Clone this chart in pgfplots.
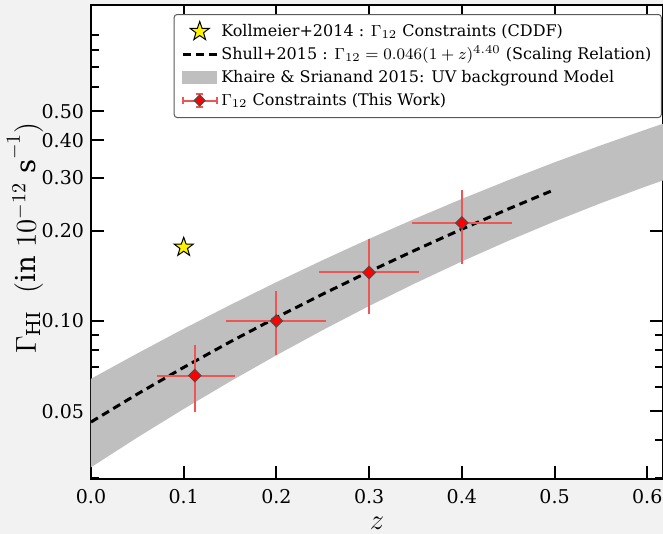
\documentclass[border=0pt]{standalone}
\usepackage{fontspec}
\setmainfont{DejaVu Serif}
\usepackage{pgfplots}
\pgfplotsset{compat=1.18}
\definecolor{bandgray}{RGB}{191,191,191}
\definecolor{errred}{RGB}{238,85,85}
\definecolor{bgc}{RGB}{242,242,242}
\definecolor{legframe}{RGB}{90,90,90}

\pgfdeclareplotmark{fstar}{%
  \pgfpathmoveto{\pgfpointpolar{90}{\pgfplotmarksize}}%
  \pgfpathlineto{\pgfpointpolar{126}{0.4\pgfplotmarksize}}%
  \pgfpathlineto{\pgfpointpolar{162}{\pgfplotmarksize}}%
  \pgfpathlineto{\pgfpointpolar{198}{0.4\pgfplotmarksize}}%
  \pgfpathlineto{\pgfpointpolar{234}{\pgfplotmarksize}}%
  \pgfpathlineto{\pgfpointpolar{270}{0.4\pgfplotmarksize}}%
  \pgfpathlineto{\pgfpointpolar{306}{\pgfplotmarksize}}%
  \pgfpathlineto{\pgfpointpolar{342}{0.4\pgfplotmarksize}}%
  \pgfpathlineto{\pgfpointpolar{18}{\pgfplotmarksize}}%
  \pgfpathlineto{\pgfpointpolar{54}{0.4\pgfplotmarksize}}%
  \pgfpathclose
  \pgfusepathqfillstroke
}

\begin{document}
\begin{tikzpicture}
\fill[bgc] (-45.5pt,-27.5pt) rectangle (286pt,239.5pt);
\begin{axis}[
  at={(0,0)}, anchor=south west,
  scale only axis, width=286pt, height=237pt,
  axis background/.style={fill=white},
  ymode=log,
  xmin=0, xmax=0.617, ymin=0.0297, ymax=1.13,
  xtick={0,0.1,0.2,0.3,0.4,0.5,0.6},
  xticklabels={0.0,0.1,0.2,0.3,0.4,0.5,0.6},
  ytick={0.05,0.1,0.2,0.3,0.4,0.5},
  yticklabels={0.05,0.10,0.20,0.30,0.40,0.50},
  minor ytick={0.03,0.04,0.06,0.07,0.08,0.09,0.6,0.7,0.8,0.9},
  xtick pos=both, ytick pos=both,
  tick align=inside,
  major tick length=6.5pt, minor tick length=4pt,
  every tick/.style={black, line width=1pt},
  axis line style={black, line width=1.3pt},
  /pgf/number format/assume math mode=true,
  ticklabel style={font=\fontsize{9.5}{11}\selectfont},
  xticklabel style={anchor=center, yshift=-9pt},
  xlabel={$z$},
  ylabel={$\Gamma_{\mathrm{HI}}\ \ (\mathrm{in}\ 10^{-12}\ \mathrm{s}^{-1})$},
  xlabel style={font=\fontsize{14.5}{16}\selectfont, at={([yshift=-22pt]axis description cs:0.5,0)}, anchor=center},
  ylabel style={font=\fontsize{13.7}{15}\selectfont, at={([xshift=-33pt,yshift=2pt]axis description cs:0,0.5)}, anchor=center},
  legend style={at={(0.998,0.981)}, anchor=north east,
    draw=legframe, line width=0.5pt, rounded corners=1.5pt, fill=white,
    font=\fontsize{8}{9.6}\selectfont,
    inner xsep=3.5pt, inner ysep=2.75pt, row sep=0pt,
    nodes={inner sep=1.5pt, text height=6.5pt, text depth=2pt},
    /tikz/every even column/.append style={column sep=9.5pt}},
  legend cell align=left,
]
% band: Khaire & Srianand 2015 (upper edge, then lower edge reversed)
\addplot[fill=bandgray, draw=none, forget plot] coordinates {
 (0,0.0641) (0.05,0.0779) (0.1,0.0941) (0.15,0.1129) (0.2,0.1346) (0.25,0.1594)
 (0.3,0.1877) (0.35,0.2194) (0.4,0.2550) (0.45,0.2943) (0.5,0.3377) (0.55,0.3848)
 (0.6,0.4359) (0.63,0.4681)
 (0.63,0.3035) (0.6,0.2817) (0.55,0.2469) (0.5,0.2145) (0.45,0.1848) (0.4,0.1578)
 (0.35,0.1336) (0.3,0.1121) (0.25,0.0932) (0.2,0.0768) (0.15,0.06278) (0.1,0.05085)
 (0.05,0.04085) (0,0.0325)
} -- cycle;
% Shull+2015 scaling relation
\addplot[black, line width=1.5pt, dash pattern=on 4pt off 2.5pt, forget plot] coordinates {
 (0,0.046) (0.05,0.05702) (0.1,0.06997) (0.15,0.08508) (0.2,0.10261) (0.25,0.12279)
 (0.3,0.14592) (0.35,0.17227) (0.4,0.20218) (0.45,0.23593) (0.5,0.27388)
};
% This work
\addplot[only marks, mark=square*, mark size=2.2pt,
  mark options={rotate=45, fill=red, draw=black!70, line width=0.5pt},
  forget plot,
  error bars/.cd, x dir=both, y dir=both, x explicit, y explicit,
  error bar style={errred, line width=1pt},
  error mark options={errred, line width=1pt, mark size=1.8pt}]
coordinates {
 (0.112,0.0657) += (0.039,0.0154) -= (0.037,0.0148)
 (0.2,0.1) += (0.05,0.022) -= (0.05,0.021)
 (0.3,0.145) += (0.05,0.038) -= (0.05,0.037)
 (0.4,0.212) += (0.05,0.053) -= (0.05,0.053)
};
% Kollmeier+2014
\addplot[only marks, mark=fstar, mark size=5pt,
  mark options={fill=yellow, draw=black, line width=0.5pt}, forget plot]
coordinates {(0.1,0.176)};

\addlegendimage{only marks, mark=fstar, mark size=5pt, mark options={fill=yellow, draw=black, line width=0.5pt}}
\addlegendentry{Kollmeier+2014 : $\Gamma_{12}$ Constraints (CDDF)}
\addlegendimage{black, line width=1.5pt, dash pattern=on 4pt off 2.5pt}
\addlegendentry{Shull+2015 : $\Gamma_{12}=0.046(1+z)^{4.40}$ (Scaling Relation)}
\addlegendimage{legend image code/.code={
  \fill[bandgray, rounded corners=0pt] (0pt,-3pt) rectangle (17pt,3pt);
}}
\addlegendentry{Khaire \& Srianand 2015: UV background Model}
\addlegendimage{legend image code/.code={
  \draw[errred, line width=1pt] (0pt,0pt) -- (17pt,0pt);
  \draw[errred, line width=1pt] (8.5pt,-3.2pt) -- (8.5pt,3.2pt);
  \draw[errred, line width=1pt] (6.7pt,3.2pt) -- (10.3pt,3.2pt) (6.7pt,-3.2pt) -- (10.3pt,-3.2pt);
  \draw[errred, line width=1pt] (0pt,-1.8pt) -- (0pt,1.8pt) (17pt,-1.8pt) -- (17pt,1.8pt);
  \filldraw[fill=red, draw=black!70, line width=0.5pt, rounded corners=0pt] (8.5pt,2.8pt) -- (11.3pt,0pt) -- (8.5pt,-2.8pt) -- (5.7pt,0pt) -- cycle;
}}
\addlegendentry{$\Gamma_{12}$ Constraints (This Work)}
\end{axis}
\pgfresetboundingbox
\useasboundingbox (-45.5pt,-27.5pt) rectangle (286pt,239.5pt);
\end{tikzpicture}
\end{document}
